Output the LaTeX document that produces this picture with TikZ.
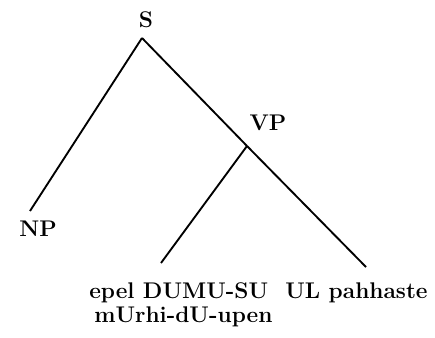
\documentclass[tikz,border=0pt]{standalone}
\usepackage{tikz}

\begin{document}
\begin{tikzpicture}[
    x=0.75pt,y=-0.75pt,
    every node/.style={font=\bfseries\fontsize{17}{19}\selectfont,inner sep=0pt},
    cat/.style={anchor=center},
    leaf/.style={anchor=west},
    branch/.style={draw=black,line width=1.4pt}
]
\useasboundingbox (0,0) rectangle (435,337);
% labels
\node[cat] (s) at (146,20) {S};
\node[cat] (vp) at (268,123) {VP};
\node[cat] (np) at (38,229) {NP};
\node[leaf] (obj) at (89,293) {epel DUMU-SU};
\node[leaf] (verb) at (94,317) {mUrhi-dU-upen};
\node[leaf] (adv) at (285,293) {UL pahhaste};
% branch points
\coordinate (stop) at (142,38);
\coordinate (vpfork) at (247,146);
\coordinate (npend) at (30,211);
\coordinate (objend) at (161,263);
\coordinate (advend) at (366,267);
\draw[branch] (stop) -- (npend);
\draw[branch] (stop) -- (vpfork);
\draw[branch] (vpfork) -- (advend);
\draw[branch] (vpfork) -- (objend);
\end{tikzpicture}
\end{document}
